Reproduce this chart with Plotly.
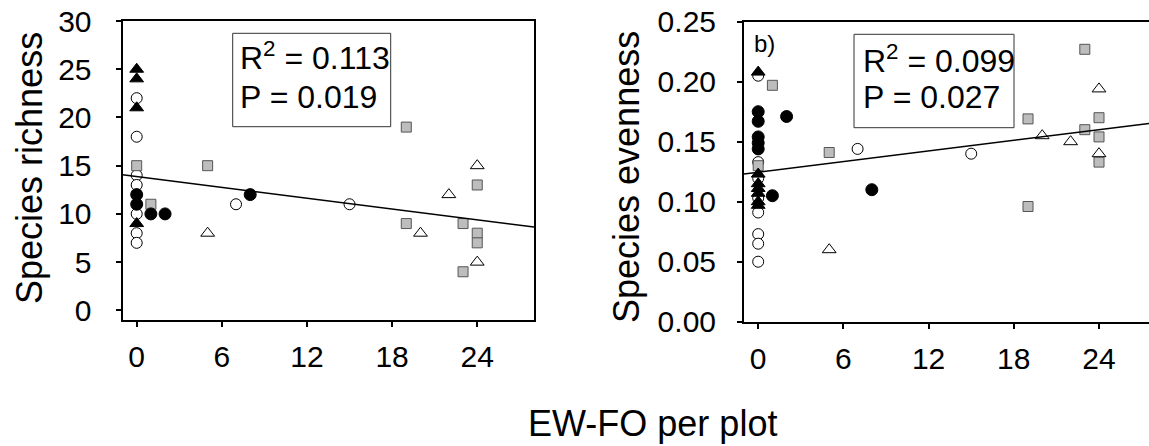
import plotly.graph_objects as go

W, H = 1149, 446

# ---------------- data: panel a (species richness) ----------------
rich_open_circle_x = [0, 0, 0, 0, 0, 0, 0, 7, 15]
rich_open_circle_y = [22, 18, 14, 13, 10, 8, 7, 11, 11]
rich_black_circle_x = [0, 0, 1, 2, 8]
rich_black_circle_y = [12, 11, 10, 10, 12]
rich_black_tri_x = [0, 0, 0, 0]
rich_black_tri_y = [25, 24, 21, 9]
rich_open_tri_x = [5, 20, 22, 24, 24]
rich_open_tri_y = [8, 8, 12, 15, 5]
rich_square_x = [0, 1, 5, 19, 19, 23, 23, 24, 24, 24]
rich_square_y = [15, 11, 15, 19, 9, 9, 4, 13, 8, 7]
rich_fit = {"intercept": 13.87, "slope": -0.187}
rich_stats = ["R<sup>2</sup> = 0.113", "P = 0.019"]

# ---------------- data: panel b (species evenness) ----------------
even_open_circle_x = [0, 0, 0, 0, 0, 0, 0, 0, 7, 15]
even_open_circle_y = [0.205, 0.133, 0.1195, 0.103, 0.091, 0.073, 0.065, 0.050, 0.144, 0.140]
even_black_circle_x = [0, 0, 0, 0, 0, 1, 2, 8]
even_black_circle_y = [0.175, 0.167, 0.154, 0.149, 0.144, 0.105, 0.171, 0.110]
even_black_tri_x = [0, 0, 0, 0, 0, 0, 0]
even_black_tri_y = [0.208, 0.123, 0.115, 0.111, 0.107, 0.100, 0.097]
even_open_tri_x = [5, 20, 22, 24, 24]
even_open_tri_y = [0.060, 0.155, 0.150, 0.194, 0.140]
even_square_x = [0, 1, 5, 19, 19, 23, 23, 24, 24, 24]
even_square_y = [0.130, 0.197, 0.141, 0.169, 0.096, 0.227, 0.160, 0.170, 0.154, 0.133]
even_fit = {"intercept": 0.1245, "slope": 0.00148}
even_stats = ["R<sup>2</sup> = 0.099", "P = 0.027"]

x_ticks = [0, 6, 12, 18, 24]
rich_ticks = [0, 5, 10, 15, 20, 25, 30]
even_ticks = [0.00, 0.05, 0.10, 0.15, 0.20, 0.25]

x_title = "EW-FO per plot"
rich_title = "Species richness"
even_title = "Species evenness"
panel_b_label = "b)"

FONT = "Liberation Sans, Arial, sans-serif"

fig = go.Figure()

styles = {
    "open_circle": dict(symbol="circle", size=11, color="white", line=dict(color="black", width=1)),
    "square": dict(symbol="square", size=10, color="#bdbdbd", line=dict(color="#555555", width=1)),
    "open_tri": dict(symbol="triangle-up", size=12, color="white", line=dict(color="black", width=1)),
    "black_circle": dict(symbol="circle", size=12, color="black", line=dict(color="black", width=1)),
    "black_tri": dict(symbol="triangle-up", size=12, color="black", line=dict(color="black", width=1)),
}

def add_panel(xa, ya, groups, fit, xr):
    for key, xs, ys in groups:
        fig.add_trace(go.Scatter(x=xs, y=ys, mode="markers", marker=styles[key],
                                 xaxis=xa, yaxis=ya, showlegend=False, hoverinfo="skip"))
    lx = [xr[0], xr[1]]
    ly = [fit["intercept"] + fit["slope"] * v for v in lx]
    fig.add_trace(go.Scatter(x=lx, y=ly, mode="lines", line=dict(color="black", width=1.5),
                             xaxis=xa, yaxis=ya, showlegend=False, hoverinfo="skip"))

left_xr = [-1, 28]
right_xr = [-1, 27.52]

add_panel("x", "y", [
    ("open_circle", rich_open_circle_x, rich_open_circle_y),
    ("square", rich_square_x, rich_square_y),
    ("open_tri", rich_open_tri_x, rich_open_tri_y),
    ("black_circle", rich_black_circle_x, rich_black_circle_y),
    ("black_tri", rich_black_tri_x, rich_black_tri_y),
], rich_fit, left_xr)

add_panel("x2", "y2", [
    ("open_circle", even_open_circle_x, even_open_circle_y),
    ("square", even_square_x, even_square_y),
    ("open_tri", even_open_tri_x, even_open_tri_y),
    ("black_circle", even_black_circle_x, even_black_circle_y),
    ("black_tri", even_black_tri_x, even_black_tri_y),
], even_fit, right_xr)

def px_x(p):
    return p / W

def px_y(p):
    return 1 - p / H

tickfont = dict(family=FONT, size=30, color="black")
axis_common = dict(showgrid=False, zeroline=False, showline=True, linecolor="black", linewidth=2,
                   ticks="outside", ticklen=5, tickwidth=2, tickcolor="black", tickfont=tickfont,
                   automargin=False)

fig.update_layout(
    width=W, height=H,
    margin=dict(l=0, r=0, t=0, b=0, autoexpand=False),
    paper_bgcolor="white", plot_bgcolor="white",
    font=dict(family=FONT, color="black"),
    xaxis=dict(domain=[px_x(122.5), px_x(534)], range=left_xr, tickvals=x_ticks,
               mirror=True, anchor="y", ticklabelstandoff=4, **axis_common),
    yaxis=dict(domain=[px_y(320), px_y(21)], range=[-1, 30], tickvals=rich_ticks,
               mirror=True, anchor="x", ticklabelstandoff=18, **axis_common),
    xaxis2=dict(domain=[px_x(744), 1.0], range=right_xr, tickvals=x_ticks,
                mirror=True, anchor="y2", ticklabelstandoff=4, **axis_common),
    yaxis2=dict(domain=[px_y(321.7), px_y(21.7)], range=[0, 0.25], tickvals=even_ticks,
                tickformat=".2f", mirror=False, anchor="x2", ticklabelstandoff=15, **axis_common),
)

# stats boxes
fig.add_shape(type="rect", xref="paper", yref="paper",
              x0=px_x(232.7), x1=px_x(390.7), y0=px_y(126.7), y1=px_y(33.3),
              line=dict(color="#333333", width=1), fillcolor="rgba(0,0,0,0)")
fig.add_shape(type="rect", xref="paper", yref="paper",
              x0=px_x(854), x1=px_x(1014), y0=px_y(127.7), y1=px_y(34.3),
              line=dict(color="#333333", width=1), fillcolor="rgba(0,0,0,0)")

ann_font = dict(family=FONT, size=32, color="black")
for txt, yy in zip(rich_stats, [56, 97]):
    fig.add_annotation(text=txt, xref="paper", yref="paper", x=px_x(238), y=px_y(yy),
                       xanchor="left", yanchor="middle", showarrow=False, font=ann_font)
for txt, yy in zip(even_stats, [59, 97]):
    fig.add_annotation(text=txt, xref="paper", yref="paper", x=px_x(861), y=px_y(yy),
                       xanchor="left", yanchor="middle", showarrow=False, font=ann_font)

fig.add_annotation(text=panel_b_label, xref="paper", yref="paper", x=px_x(752), y=px_y(44),
                   xanchor="left", yanchor="middle", showarrow=False,
                   font=dict(family=FONT, size=24, color="black"))

title_font = dict(family=FONT, size=36, color="black")
fig.add_annotation(text=rich_title, xref="paper", yref="paper", x=px_x(29), y=px_y(168),
                   textangle=-90, xanchor="center", yanchor="middle", showarrow=False, font=title_font)
fig.add_annotation(text=even_title, xref="paper", yref="paper", x=px_x(627), y=px_y(177),
                   textangle=-90, xanchor="center", yanchor="middle", showarrow=False, font=title_font)
fig.add_annotation(text=x_title, xref="paper", yref="paper", x=px_x(652), y=px_y(423),
                   xanchor="center", yanchor="middle", showarrow=False, font=title_font)

fig.write_html("out.html", config={"displayModeBar": False},
               post_script="document.body.style.margin='0px';")
